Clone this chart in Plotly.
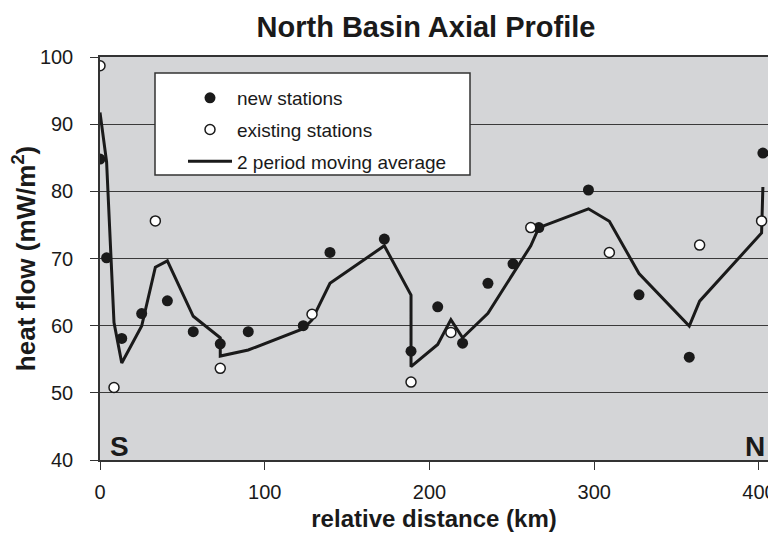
import plotly.graph_objects as go

# ---- data ----
new_x = [0, 4, 13.2, 25.3, 40.9, 56.6, 73, 90, 123.4, 139.6, 172.6, 188.8, 205, 220.1,
         235.5, 250.7, 266.4, 296.5, 327.2, 357.7, 402.4]
new_y = [84.8, 70.1, 58.1, 61.8, 63.7, 59.1, 57.3, 59.1, 60.0, 70.9, 72.9, 56.2, 62.8, 57.4,
         66.3, 69.2, 74.6, 80.2, 64.6, 55.3, 85.7]

existing_x = [0, 8.5, 33.6, 73, 128.7, 188.8, 213, 261.5, 309.2, 364, 401.6]
existing_y = [98.7, 50.8, 75.6, 53.65, 61.7, 51.6, 59.0, 74.6, 70.9, 72.0, 75.6]

y_ticks = [40, 50, 60, 70, 80, 90, 100]
x_ticks = [0, 100, 200, 300, 400]

# ---- 2 period moving average over all stations sorted by distance ----
pts = [(x, y, 0) for x, y in zip(new_x, new_y)] + [(x, y, 1) for x, y in zip(existing_x, existing_y)]
pts.sort(key=lambda p: (p[0], p[2]))
ma_x = [pts[i][0] for i in range(1, len(pts))]
ma_y = [(pts[i - 1][1] + pts[i][1]) / 2 for i in range(1, len(pts))]

FONT = "Liberation Sans, Arial, sans-serif"
INK = "#1a1a1a"

fig = go.Figure()
fig.add_trace(go.Scatter(
    x=ma_x, y=ma_y, mode="lines", name="2 period moving average",
    line=dict(color=INK, width=3), legendrank=3, legendgroup="c"))
fig.add_trace(go.Scatter(
    x=new_x, y=new_y, mode="markers", name="new stations",
    marker=dict(color=INK, size=11, line=dict(width=0)), legendrank=1, legendgroup="a"))
fig.add_trace(go.Scatter(
    x=existing_x, y=existing_y, mode="markers", name="existing stations",
    marker=dict(color="white", size=10, line=dict(color=INK, width=1.5)),
    legendrank=2, legendgroup="b"))

# page has an 8px body margin, so the figure is 768x527 placed at (8, 8)
OFF = 8
W, H = 776 - OFF, 535 - OFF
L, R, T, B = 100 - OFF, 8, 57 - OFF, 75
pw, ph = W - L - R, H - T - B

def px_x(p):  # page pixel -> paper
    return (p - OFF - L) / pw

def px_y(p):
    return (H - B - (p - OFF)) / ph

fig.add_shape(type="rect", xref="paper", yref="paper",
              x0=px_x(155), x1=px_x(470), y0=px_y(175), y1=px_y(73),
              fillcolor="white", line=dict(color="#333333", width=1.5), layer="above")

fig.add_annotation(text="<b>S</b>", xref="paper", yref="paper", x=px_x(108), y=px_y(446),
                   xanchor="left", yanchor="middle", showarrow=False,
                   font=dict(family=FONT, size=28, color=INK))
fig.add_annotation(text="<b>N</b>", xref="paper", yref="paper", x=px_x(767), y=px_y(446),
                   xanchor="right", yanchor="middle", showarrow=False,
                   font=dict(family=FONT, size=28, color=INK))

fig.update_layout(
    width=W, height=H,
    margin=dict(l=L, r=R, t=T, b=B, autoexpand=False),
    paper_bgcolor="white", plot_bgcolor="#d4d5d7",
    font=dict(family=FONT, color=INK),
    title=dict(text="<b>North Basin Axial Profile</b>", x=(426 - OFF) / W,
               xanchor="center", y=1 - (27 - OFF) / H, yanchor="middle", automargin=False,
               font=dict(family=FONT, size=29, color=INK)),
    showlegend=True,
    legend=dict(x=px_x(183), y=px_y(79), xanchor="left", yanchor="top",
                bgcolor="rgba(0,0,0,0)", borderwidth=0,
                font=dict(family=FONT, size=19, color=INK),
                tracegroupgap=4, itemwidth=44),
    xaxis=dict(range=[0, 405.5], tickvals=x_ticks, ticks="outside", ticklen=8,
               tickcolor="#333", tickwidth=1.3, automargin=False, ticklabelstandoff=5,
               showline=True, linecolor="#333", linewidth=1.5, mirror=True,
               showgrid=False, zeroline=False,
               tickfont=dict(family=FONT, size=20, color=INK),
               title=dict(text="<b>relative distance (km)</b>", standoff=8,
                          font=dict(family=FONT, size=24, color=INK))),
    yaxis=dict(range=[40, 100], tickvals=y_ticks, ticks="outside", ticklen=8,
               tickcolor="#333", tickwidth=1.3, automargin=False, ticklabelstandoff=13,
               showline=True, linecolor="#333", linewidth=1.5, mirror=True,
               showgrid=True, gridcolor="#3a3a3a", gridwidth=1.3, zeroline=False,
               tickfont=dict(family=FONT, size=20, color=INK),
               title=dict(text="<b>heat flow (mW/m<sup>2</sup>)</b>", standoff=6,
                          font=dict(family=FONT, size=26, color=INK))),
)

fig.write_html("out.html")
